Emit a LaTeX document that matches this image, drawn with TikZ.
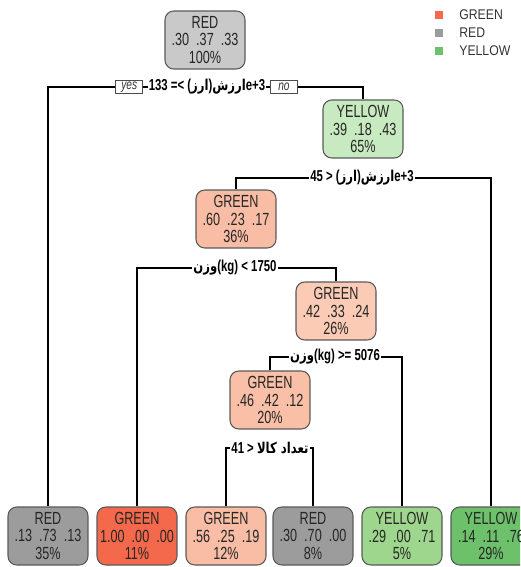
\documentclass[tikz,border=0pt]{standalone}
\usepackage{fontspec}
\setmainfont{Liberation Sans}[FakeStretch=0.72]
\newfontfamily\lgfont{Liberation Sans}[FakeStretch=0.87]
\newfontfamily\arabicfont[Script=Arabic,FakeStretch=0.78]{DejaVu Sans}
\TeXXeTstate=1
\definecolor{grnA}{HTML}{F4694B}
\definecolor{grnB}{HTML}{F9BCA5}
\definecolor{grnC}{HTML}{FBCBB6}
\definecolor{grnD}{HTML}{F9C0A7}
\definecolor{redA}{HTML}{C9C9C9}
\definecolor{redB}{HTML}{9C9C9C}
\definecolor{yelA}{HTML}{C8EAC0}
\definecolor{yelB}{HTML}{9ED68E}
\definecolor{yelC}{HTML}{6CC16A}
\newcommand{\ar}[1]{{\arabicfont\fontsize{8.5}{10}\selectfont\beginR #1\endR}}
\tikzset{
  tbox/.style={draw=black!65, line width=0.6pt, rounded corners=5pt,
    minimum width=1.6cm, minimum height=1.16cm, align=center, inner sep=0pt,
    font=\fontsize{10}{9.8}\selectfont, text=black!85},
  splitlbl/.style={inner sep=0.5pt, font=\fontsize{9}{10}\selectfont\bfseries, text=black},
  yesno/.style={draw=black!70, line width=0.5pt, minimum width=0.54cm, minimum height=0.26cm,
    inner sep=0.5pt, font=\fontsize{8}{8}\selectfont\itshape, text=black!80},
  edge/.style={draw=black, line width=0.6pt},
  lgsq/.style={minimum size=0.16cm, inner sep=0pt},
  lgtxt/.style={anchor=west, inner sep=0pt, font=\lgfont\fontsize{8}{9}\selectfont, text=black!80}
}
\begin{document}
\begin{tikzpicture}[x=0.02cm,y=-0.02cm]
\useasboundingbox (0,0) rectangle (520,567);
\clip (0,0) rectangle (520,567);

% internal nodes
\node[tbox, fill=redA] (root) at (205,40)  {RED\\.30 \ .37 \ .33\\100\%};
\node[tbox, fill=yelA] (n2)   at (363,129) {YELLOW\\.39 \ .18 \ .43\\65\%};
\node[tbox, fill=grnB] (n3)   at (236,219) {GREEN\\.60 \ .23 \ .17\\36\%};
\node[tbox, fill=grnC] (n4)   at (336,311) {GREEN\\.42 \ .33 \ .24\\26\%};
\node[tbox, fill=grnD] (n5)   at (270,400) {GREEN\\.46 \ .42 \ .12\\20\%};

% leaves
\node[tbox, fill=redB] (l1) at (48,536)  {RED\\.13 \ .73 \ .13\\35\%};
\node[tbox, fill=grnA] (l2) at (137,536) {GREEN\\1.00 \ .00 \ .00\\11\%};
\node[tbox, fill=grnB] (l3) at (226,536) {GREEN\\.56 \ .25 \ .19\\12\%};
\node[tbox, fill=redB] (l4) at (313,536) {RED\\.30 \ .70 \ .00\\8\%};
\node[tbox, fill=yelB] (l5) at (402,536) {YELLOW\\.29 \ .00 \ .71\\5\%};
\node[tbox, fill=yelC] (l6) at (491,536) {YELLOW\\.14 \ .11 \ .76\\29\%};

% split labels
\node[splitlbl] (s1) at (207,87)  {133 =< (\ar{ارز})\ar{ارزش}e+3};
\node[yesno, anchor=east, xshift=-2.5pt] (yes) at (s1.west) {yes};
\node[yesno, anchor=west, xshift=2pt] (no) at (s1.east) {no};
\node[splitlbl] (s2) at (362,178) {45 > (\ar{ارز})\ar{ارزش}e+3};
\node[splitlbl] (s3) at (235,268) {\ar{وزن}(kg) < 1750};
\node[splitlbl] (s4) at (335,357) {\ar{وزن}(kg) >= 5076};
\node[splitlbl] (s5) at (270,448) {41 > \ar{تعداد کالا}};

% connectors
\draw[edge] (l1.north) |- (yes.west);
\draw[edge] (yes.east) -- (s1.west);
\draw[edge] (s1.east) -- (no.west);
\draw[edge] (no.east) -| (n2.north);
\draw[edge] (n3.north) |- (s2.west);
\draw[edge] (s2.east) -| (l6.north);
\draw[edge] (l2.north) |- (s3.west);
\draw[edge] (s3.east) -| (n4.north);
\draw[edge] (n5.north) |- (s4.west);
\draw[edge] (s4.east) -| (l5.north);
\draw[edge] (l3.north) |- (s5.west);
\draw[edge] (s5.east) -| (l4.north);

% legend
\node[lgsq, fill=grnA] (kg) at (439,15) {};
\node[lgsq, fill=redB] (kr) at (439,33) {};
\node[lgsq, fill=yelC] (ky) at (439,51) {};
\node[lgtxt] (tg) at (459,15) {GREEN};
\node[lgtxt] (tr) at (459,33) {RED};
\node[lgtxt] (ty) at (459,51) {YELLOW};
\end{tikzpicture}
\end{document}
